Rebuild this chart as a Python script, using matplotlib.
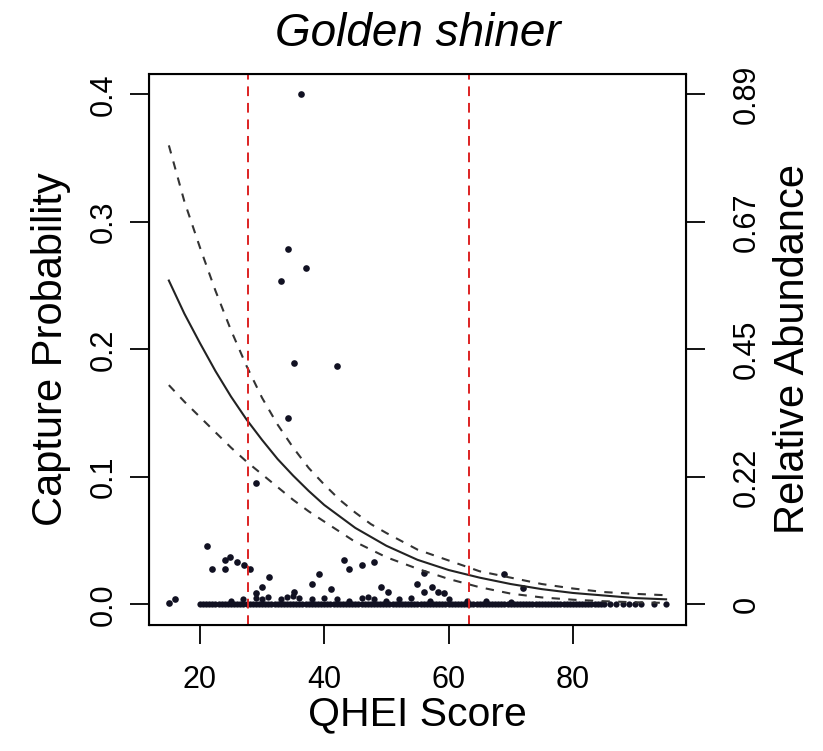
import matplotlib
matplotlib.use("Agg")
import matplotlib.pyplot as plt

plt.rcParams['font.family'] = ['Liberation Sans', 'DejaVu Sans']

# ── Data ────────────────────────────────────────────────────────────────────
curve_x = [15, 17.5, 20, 22.5, 25, 27.5, 30, 32.5, 35, 37.5, 40, 42.5, 45,
           47.5, 50, 55, 60, 65, 70, 75, 80, 85, 90, 95]
fit_y   = [0.254, 0.228, 0.205, 0.183, 0.163, 0.145, 0.129, 0.114, 0.101,
           0.089, 0.078, 0.069, 0.060, 0.053, 0.046, 0.035, 0.027, 0.021,
           0.016, 0.012, 0.009, 0.007, 0.005, 0.004]
upper_y = [0.360, 0.316, 0.280, 0.246, 0.215, 0.187, 0.162, 0.141, 0.123,
           0.107, 0.094, 0.082, 0.072, 0.063, 0.056, 0.043, 0.0345, 0.026,
           0.021, 0.016, 0.0125, 0.0097, 0.0083, 0.0072]
lower_y = [0.172, 0.159, 0.147, 0.135, 0.123, 0.112, 0.102, 0.092, 0.082,
           0.073, 0.065, 0.057, 0.049, 0.043, 0.037, 0.028, 0.020, 0.0135,
           0.0085, 0.0055, 0.0037, 0.0025, 0.0017, 0.0012]

zero_x = [20, 20.5, 21, 21.5, 22, 22.5, 23, 23.5, 24, 24.5, 25, 25.5, 26, 26.5,
          27, 27.5, 28, 28.5, 29, 29.5, 30, 30.5, 31, 31.5, 32, 32.5, 33, 33.5,
          34, 34.5, 35, 35.5, 36, 36.5, 37, 37.5, 38, 38.5, 39, 39.5, 40, 40.5,
          41, 41.5, 42, 42.5, 43, 43.5, 44, 44.5, 45, 45.5, 46, 46.5, 47, 47.5,
          48, 48.5, 49, 49.5, 50, 50.5, 51, 51.5, 52, 52.5, 53, 53.5, 54, 54.5,
          55, 55.5, 56, 56.5, 57, 57.5, 58, 58.5, 59, 59.5, 60, 60.5, 61, 61.5,
          62, 62.5, 63, 63.5, 64, 64.5, 65, 65.5, 66, 66.5, 67, 67.5, 68, 68.5,
          69, 69.5, 70, 70.5, 71, 71.5, 72, 72.5, 73, 73.5, 74, 74.5, 75, 75.5,
          76, 76.5, 77, 77.5, 78, 78.5, 79, 79.5, 80, 80.5, 81, 81.5, 82, 82.5,
          83, 83.5, 84, 84.5, 85, 86, 87, 88, 89, 90, 91, 93, 95]

low_x = [25, 27, 29, 30, 31, 33, 34, 35, 36, 38, 40, 42, 44, 46, 47, 48, 50,
         52, 54, 57, 60, 63, 66, 70]
low_y = [0.003, 0.004, 0.005, 0.004, 0.006, 0.004, 0.006, 0.007, 0.005, 0.004,
         0.005, 0.004, 0.003, 0.005, 0.006, 0.004, 0.003, 0.004, 0.005, 0.003,
         0.004, 0.003, 0.003, 0.002]

pts_x = [15.0, 16.0, 21.1, 22.0, 24.1, 24.1, 24.9, 26.0, 27.1, 28.1, 29.0, 30.0,
         31.1, 29.0, 33.1, 34.1, 37.1, 36.2, 35.1, 42.1, 34.1, 35.1, 38.1, 39.2,
         41.1, 43.2, 44.0, 46.1, 48.0, 49.1, 50.2, 55.0, 56.1, 56.1, 57.3, 58.3,
         59.3, 69.0, 72.0]
pts_y = [0.001, 0.004, 0.046, 0.0275, 0.0275, 0.035, 0.037, 0.033, 0.031, 0.0275,
         0.0086, 0.0138, 0.0215, 0.095, 0.254, 0.279, 0.264, 0.400, 0.189, 0.187,
         0.146, 0.010, 0.0158, 0.0236, 0.012, 0.0345, 0.0275, 0.031, 0.033, 0.014,
         0.010, 0.0158, 0.025, 0.0101, 0.0138, 0.0101, 0.0086, 0.024, 0.013]

thresholds = [27.8, 63.3]

left_ticks  = [0.0, 0.1, 0.2, 0.3, 0.4]
left_labels = ["0.0", "0.1", "0.2", "0.3", "0.4"]
right_labels = ["0", "0.22", "0.45", "0.67", "0.89"]
x_ticks = [20, 40, 60, 80]

# ── Figure ──────────────────────────────────────────────────────────────────
fig = plt.figure(figsize=(8.23, 7.51), dpi=100)
ax = fig.add_axes([0.181, 0.168, 0.6525, 0.7335])

dot = '#111122'
ax.plot(zero_x, [0] * len(zero_x), 'o', color=dot, ms=4.5, mec='none')
ax.plot(low_x, low_y, 'o', color=dot, ms=4.5, mec='none')
ax.plot(pts_x, pts_y, 'o', color=dot, ms=4.8, mec='none')

ax.plot(curve_x, fit_y, color='#222222', lw=1.5)
ax.plot(curve_x, upper_y, color='#333333', lw=1.5, dashes=(4, 4))
ax.plot(curve_x, lower_y, color='#333333', lw=1.5, dashes=(4, 4))

for t in thresholds:
    ax.axvline(t, color='#dd2222', lw=1.4, dashes=(5, 3.5))

ax.set_xlim(11.8, 98.2)
ax.set_ylim(-0.016, 0.416)
ax.set_xticks(x_ticks)
ax.set_yticks(left_ticks)
ax.set_yticklabels(left_labels, rotation=90, va='center')
ax.tick_params(direction='out', length=14, width=1.3, labelsize=22)
ax.tick_params(axis='y', pad=8)
ax.tick_params(axis='x', pad=15)
for s in ax.spines.values():
    s.set_linewidth(1.5)

ax2 = ax.twinx()
ax2.set_ylim(ax.get_ylim())
ax2.set_yticks(left_ticks)
ax2.set_yticklabels(right_labels, rotation=90, va='center')
ax2.tick_params(direction='out', length=14, width=1.3, labelsize=22, pad=19)

ax.set_xlabel("QHEI Score", fontsize=29.5, va='top')
ax.xaxis.set_label_coords(0.5, -0.128)
ax.set_ylabel("Capture Probability", fontsize=30, va='center')
ax.yaxis.set_label_coords(-0.183, 0.5)
ax2.set_ylabel("Relative Abundance", fontsize=30, va='center')
ax2.yaxis.set_label_coords(1.2, 0.5)

ax.text(0.5, 1.073, "Golden shiner", transform=ax.transAxes, fontsize=33,
        style='italic', ha='center', va='center')

fig.savefig("out.png", dpi=100)
